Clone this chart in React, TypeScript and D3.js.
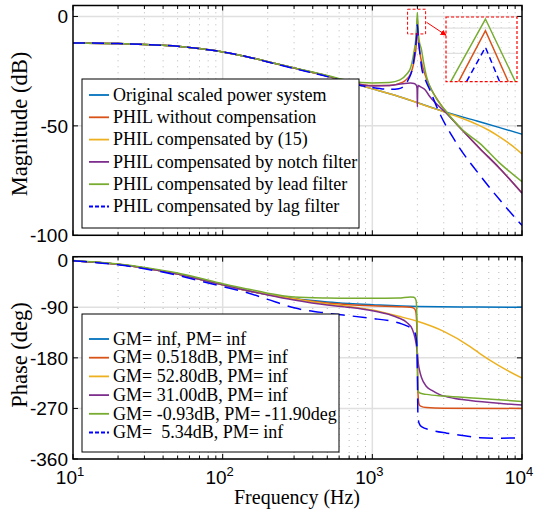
import React from "react";
import * as d3 from "d3";

// ---- data ----
// upper panel: magnitude in dB
const origMagF = [10, 20, 30, 50, 70, 100, 150, 200, 300, 500, 700, 1000, 1500, 2000, 3000, 5000, 7000, 10000];
const origMag = [-12.1, -12.4, -12.8, -13.6, -14.7, -16.2, -18.6, -20.7, -23.6, -27.3, -30.1, -33.1, -36.6, -39.4, -43.4, -47.8, -50.7, -53.8];

const noCompMagF = [10, 20, 30, 50, 70, 100, 150, 200, 300, 500, 700, 1000, 1300, 1600, 1800, 1900, 1950, 1980, 2000, 2020, 2050, 2100, 2170, 2300, 2420, 2680, 3100, 4000, 5200, 7000, 10000];
const noCompMag = [-12.1, -12.4, -12.8, -13.6, -14.7, -16.2, -18.6, -20.7, -23.6, -27.2, -29.9, -31.6, -31.5, -30.0, -26.2, -20.5, -15.5, -9, -0.5, -8.5, -13.5, -18.5, -22.9, -28.5, -32, -37.3, -43.5, -52, -60.2, -69, -80.6];

const eq15MagF = [10, 20, 30, 50, 70, 100, 150, 200, 300, 500, 700, 1000, 1500, 2000, 3000, 4000, 5000, 6000, 7000, 8500, 10000];
const eq15Mag = [-12.1, -12.4, -12.8, -13.6, -14.7, -16.2, -18.6, -20.7, -23.6, -27.3, -30.1, -33.1, -36.6, -39.4, -43.6, -46.6, -49.3, -52, -54.8, -58.8, -62.8];

const notchMagF = [10, 20, 30, 50, 70, 100, 150, 200, 300, 500, 700, 1000, 1300, 1600, 1800, 1900, 1970, 1990, 2000, 2010, 2030, 2100, 2250, 2420, 3100, 4000, 5200, 7000, 10000];
const notchMag = [-12.1, -12.4, -12.8, -13.6, -14.7, -16.2, -18.6, -20.7, -23.6, -27.2, -30.0, -31.8, -31.6, -30.7, -30.4, -30.6, -31.5, -33, -41.4, -33, -31.6, -32.2, -33.5, -36.6, -44, -52, -60.2, -69, -80.8];

const leadMagF = [10, 20, 30, 50, 70, 100, 150, 200, 300, 500, 700, 1000, 1300, 1530, 1700, 1800, 1900, 1950, 1980, 2000, 2020, 2050, 2130, 2200, 2300, 2550, 3100, 4000, 5200, 7100, 10000];
const leadMag = [-12.1, -12.4, -12.8, -13.6, -14.7, -16.2, -18.6, -20.7, -23.5, -27.0, -29.4, -30.4, -30.2, -29, -26.3, -23.6, -16, -10.5, -4, 1.8, -5.5, -10.5, -15.2, -21, -27.4, -35, -43.2, -51.8, -57.9, -67, -75.5];

const lagMagF = [10, 20, 30, 50, 70, 100, 150, 200, 300, 500, 700, 1000, 1300, 1500, 1650, 1750, 1850, 1920, 1970, 2000, 2030, 2080, 2130, 2250, 2420, 2750, 3650, 5100, 7100, 10000];
const lagMag = [-12.1, -12.4, -12.8, -13.6, -14.7, -16.2, -18.6, -20.8, -23.8, -27.5, -30.3, -32.5, -33.3, -33, -31.5, -28.5, -24, -17, -10, -3.8, -10, -17, -22.9, -28.5, -33.5, -42.7, -57.9, -71.6, -83.8, -95.5];

// lower panel: phase in degrees
const origPhF = [10, 20, 30, 50, 70, 100, 150, 200, 300, 500, 700, 1000, 2000, 5000, 10000];
const origPh = [-7, -13.5, -20, -31, -40, -50, -61, -67.5, -74.5, -80.5, -83.2, -85.3, -88.5, -89.5, -90];

const noCompPhF = [10, 20, 30, 50, 70, 100, 150, 200, 300, 500, 700, 1000, 1500, 1800, 1900, 1950, 1980, 2000, 2020, 2050, 2100, 2300, 3000, 10000];
const noCompPh = [-7, -13.5, -20, -31, -40, -50, -61, -67.5, -75, -82.5, -85.5, -87.5, -89, -90, -92, -97, -120, -180, -245, -262, -266, -268.5, -269.5, -270];

const eq15PhF = [10, 20, 30, 50, 70, 100, 150, 200, 300, 500, 700, 1000, 1500, 2000, 3000, 4500, 5200, 7000, 10000];
const eq15Ph = [-7, -13.5, -20, -31, -40, -50, -61, -67.5, -75, -84, -88.5, -95, -106, -115, -133, -160, -172, -194, -216];

const notchPhF = [10, 20, 30, 50, 70, 100, 150, 200, 300, 500, 700, 1000, 1300, 1500, 1700, 1850, 1930, 1970, 2000, 2030, 2070, 2130, 2300, 2500, 2800, 3500, 4500, 7000, 10000];
const notchPh = [-7, -13.5, -20, -31, -40, -50, -61, -68, -77, -86, -90, -96, -103, -109, -117, -129, -145, -158, -172, -190, -203, -215, -231, -238, -245, -252, -256, -261, -264];

const leadPhF = [10, 20, 30, 50, 70, 100, 150, 200, 300, 500, 700, 1000, 1500, 1800, 1900, 1960, 1990, 2000, 2010, 2030, 2100, 2300, 3000, 5000, 10000];
const leadPh = [-6.8, -13, -19, -29, -38, -48, -58, -65, -71.5, -73.5, -74, -74, -73.5, -71.5, -72, -78, -120, -190, -230, -240, -243, -245, -248, -252, -257.5];

const lagPhF = [10, 20, 30, 50, 70, 100, 150, 200, 300, 500, 700, 1000, 1300, 1530, 1700, 1880, 1950, 1985, 2000, 2015, 2050, 2130, 2500, 3140, 4000, 5200, 7100, 10000];
const lagPh = [-7, -14.5, -21.5, -33, -43, -53, -65, -76, -91, -100.5, -105, -110, -114, -118.5, -123, -130.5, -140, -160, -200, -280, -296, -302.5, -309, -314, -318, -322, -323, -322];

// inset: the top of the resonance, zoomed (Hz, dB)
const insetF = [1995.6, 2000, 2003.8];
const insetLead = [-10.6, 1.8, -10.6];
const insetNoCompF = [1996.6, 2000, 2002.9];
const insetNoComp = [-10.6, -0.5, -10.6];
const insetLagF = [1997.6, 2000, 2001.8];
const insetLag = [-10.6, -3.8, -10.6];

const magLabels = ["Original scaled power system", "PHIL without compensation", "PHIL compensated by (15)", "PHIL compensated by notch filter", "PHIL compensated by lead filter", "PHIL compensated by lag filter"];
const phLabels = ["GM= inf, PM= inf", "GM= 0.518dB, PM= inf", "GM= 52.80dB, PM= inf", "GM= 31.00dB, PM= inf", "GM= -0.93dB, PM= -11.90deg", "GM=  5.34dB, PM= inf"];
const colors = ["#0072BD", "#D95319", "#EDB120", "#7E2F8E", "#77AC30", "#0000FF"];

const magTicks = [0, -50, -100];
const phTicks = [0, -90, -180, -270, -360];
const decades = [10, 100, 1000, 10000];

const serif = "'Liberation Serif', 'Times New Roman', serif";
const sans = "'Liberation Sans', Arial, sans-serif";

export default function App() {
  const x = d3.scaleLog().domain([10, 10000]).range([73, 522]);
  const yMag = d3.scaleLinear().domain([-100, 5]).range([235.3, 5.5]);
  const yPh = d3.scaleLinear().domain([-360, 0]).range([459, 256.7]);

  const minor: number[] = [];
  [10, 100, 1000].forEach((d) => { for (let k = 2; k <= 9; k++) minor.push(d * k); });

  const magSeries = [
    [origMagF, origMag], [noCompMagF, noCompMag], [eq15MagF, eq15Mag],
    [notchMagF, notchMag], [leadMagF, leadMag], [lagMagF, lagMag],
  ];
  const phSeries = [
    [origPhF, origPh], [noCompPhF, noCompPh], [eq15PhF, eq15Ph],
    [notchPhF, notchPh], [leadPhF, leadPh], [lagPhF, lagPh],
  ];

  const lineOf = (y: d3.ScaleLinear<number, number>) =>
    d3.line<[number, number]>().x((d) => x(d[0])).y((d) => y(d[1])).curve(d3.curveMonotoneX);
  const magLine = lineOf(yMag);
  const phLine = lineOf(yPh);
  const zip = (f: number[], v: number[]) => f.map((ff, i) => [ff, v[i]] as [number, number]);

  const panel = (y: d3.ScaleLinear<number, number>, ticks: number[], id: string) => {
    const [y0, y1] = y.range();
    return (
      <g>
        {ticks.map((t) => (
          <line key={"hg" + t} x1={73} x2={522} y1={y(t)} y2={y(t)} stroke="#e0e0e0" strokeWidth={1.5} />
        ))}
        {minor.map((f) => (
          <line key={"mg" + f} x1={x(f)} x2={x(f)} y1={y0} y2={y1} stroke="#b8b8b8" strokeWidth={1} strokeDasharray="1,5" />
        ))}
        {decades.slice(1, 3).map((f) => (
          <line key={"vg" + f} x1={x(f)} x2={x(f)} y1={y0} y2={y1} stroke="#e0e0e0" strokeWidth={1.5} />
        ))}
        {minor.map((f) => (
          <g key={"mt" + f}>
            <line x1={x(f)} x2={x(f)} y1={y0} y2={y0 - 3.5} stroke="#000" />
            <line x1={x(f)} x2={x(f)} y1={y1} y2={y1 + 3.5} stroke="#000" />
          </g>
        ))}
        {decades.map((f) => (
          <g key={"Mt" + f}>
            <line x1={x(f)} x2={x(f)} y1={y0} y2={y0 - 5} stroke="#000" />
            <line x1={x(f)} x2={x(f)} y1={y1} y2={y1 + 5} stroke="#000" />
          </g>
        ))}
        {ticks.map((t) => (
          <g key={"yt" + t}>
            <line x1={73} x2={78} y1={y(t)} y2={y(t)} stroke="#000" />
            <line x1={522} x2={517} y1={y(t)} y2={y(t)} stroke="#000" />
            <text x={68} y={y(t) + (t === 0 && id === "clipPh" ? 3 : 0)} dy="0.36em" textAnchor="end" fontFamily={sans} fontSize={19}>
              {t === 0 ? "0" : "-" + Math.abs(t)}
            </text>
          </g>
        ))}
        <clipPath id={id}>
          <rect x={73} y={y1} width={449} height={y0 - y1} />
        </clipPath>
      </g>
    );
  };

  const legend = (labels: string[], bx: number, by: number, bw: number, bh: number, rows: number[]) => (
    <g>
      <rect x={bx} y={by} width={bw} height={bh} fill="#fff" stroke="#000" strokeWidth={1} />
      {labels.map((l, i) => (
        <g key={l}>
          <line x1={89} x2={109} y1={rows[i]} y2={rows[i]} stroke={colors[i]} strokeWidth={1.8}
            strokeDasharray={i === 5 ? "4,2" : undefined} />
          <text x={113} y={rows[i]} dy="0.32em" fontFamily={serif} fontSize={18} style={{ whiteSpace: "pre" }}>
            {l}
          </text>
        </g>
      ))}
    </g>
  );

  const xi = d3.scaleLinear().domain([1995, 2004]).range([446, 517]);
  const yi = d3.scaleLinear().domain([-10.6, 2.2]).range([81.7, 17]);
  const insetLine = d3.line<[number, number]>().x((d) => xi(d[0])).y((d) => yi(d[1]));

  const zx0 = x(1720), zx1 = x(2270), zy0 = yMag(3.3), zy1 = yMag(-8);

  return (
    <svg width={537} height={514} style={{ position: "absolute", left: 0, top: 0, background: "#fff" }}>
      <defs>
        <marker id="arr" viewBox="0 0 10 10" refX={9} refY={5} markerWidth={6} markerHeight={6} orient="auto">
          <path d="M0,0 L10,5 L0,10 z" fill="#ff0000" />
        </marker>
      </defs>
      <rect width={537} height={514} fill="#fff" />

      {panel(yMag, magTicks, "clipMag")}
      {panel(yPh, phTicks, "clipPh")}

      <g clipPath="url(#clipMag)">
        {magSeries.map((s, i) => (
          <path key={i} d={magLine(zip(s[0], s[1])) || ""} fill="none" stroke={colors[i]}
            strokeWidth={1.5} strokeDasharray={i === 5 ? "12,7" : undefined} />
        ))}
      </g>
      <g clipPath="url(#clipPh)">
        {phSeries.map((s, i) => (
          <path key={i} d={phLine(zip(s[0], s[1])) || ""} fill="none" stroke={colors[i]}
            strokeWidth={1.5} strokeDasharray={i === 5 ? "14,8" : undefined} />
        ))}
      </g>

      {/* frames */}
      <rect x={73} y={5.5} width={449} height={229.8} fill="none" stroke="#000" strokeWidth={1.5} />
      <rect x={73} y={256.7} width={449} height={202.3} fill="none" stroke="#000" strokeWidth={1.5} />

      {/* zoom box, arrow and inset */}
      <rect x={zx0} y={zy0} width={zx1 - zx0} height={zy1 - zy0} fill="none" stroke="#ff0000" strokeWidth={1} strokeDasharray="3,2" />
      <line x1={zx1 + 1} y1={yMag(-2.7)} x2={xi(1995)} y2={yi(-1.4)} stroke="#ff0000" strokeWidth={1} markerEnd="url(#arr)" />
      <rect x={xi(1995)} y={yi(2.2)} width={xi(2004) - xi(1995)} height={yi(-10.6) - yi(2.2)} fill="#fff" />
      {[0, -5].map((t) => (
        <line key={t} x1={xi(1995)} x2={xi(2004)} y1={yi(t)} y2={yi(t)} stroke="#e0e0e0" strokeWidth={1.2} />
      ))}
      {d3.range(1996, 2004).map((f) => (
        <line key={f} x1={xi(f)} x2={xi(f)} y1={yi(2.2)} y2={yi(-10.6)} stroke="#c8c8c8" strokeWidth={0.8} strokeDasharray="1,4" />
      ))}
      <path d={insetLine(zip(insetF, insetLead)) || ""} fill="none" stroke={colors[4]} strokeWidth={1.5} />
      <path d={insetLine(zip(insetNoCompF, insetNoComp)) || ""} fill="none" stroke={colors[1]} strokeWidth={1.5} />
      <path d={insetLine(zip(insetLagF, insetLag)) || ""} fill="none" stroke={colors[5]} strokeWidth={1.5} strokeDasharray="6,4" />
      <rect x={xi(1995)} y={yi(2.2)} width={xi(2004) - xi(1995)} height={yi(-10.6) - yi(2.2)} fill="none"
        stroke="#ff0000" strokeWidth={1.2} strokeDasharray="3,2" />

      {legend(magLabels, 82, 79, 277, 149, [95, 117.3, 139.6, 161.9, 184.2, 206.5])}
      {legend(phLabels, 82, 314, 257, 138, [339, 357.7, 376.4, 395.1, 413.8, 432.5])}

      {/* x tick labels */}
      {decades.map((f, i) => (
        <text key={f} x={x(f) - 3} y={484} textAnchor="middle" fontFamily={sans} fontSize={19}>
          10<tspan dy={-8} fontSize={13}>{i + 1}</tspan>
        </text>
      ))}
      <text x={297} y={504} textAnchor="middle" fontFamily={serif} fontSize={20}>Frequency (Hz)</text>
      <text transform="translate(27,124) rotate(-90)" textAnchor="middle" fontFamily={serif} fontSize={22.5}>Magnitude (dB)</text>
      <text transform="translate(27,355) rotate(-90)" textAnchor="middle" fontFamily={serif} fontSize={22.5}>Phase (deg)</text>
    </svg>
  );
}
